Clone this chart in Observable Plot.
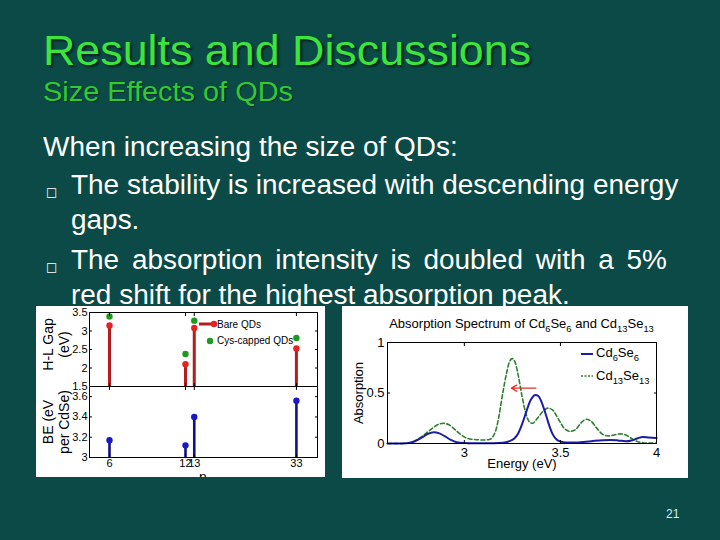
<!DOCTYPE html>
<html><head><meta charset="utf-8">
<script src="https://cdn.jsdelivr.net/npm/d3@7"></script>
<script src="https://cdn.jsdelivr.net/npm/@observablehq/plot@0.6"></script>
<style>
html,body{margin:0;padding:0;}
body{width:720px;height:540px;background:#0b4a46;position:relative;overflow:hidden;font-family:"Liberation Sans",Arial,sans-serif;}
.t{position:absolute;white-space:nowrap;line-height:1;transform-origin:0 0;}
#title{left:43px;top:28.6px;font-size:43px;color:#3de43d;transform:scaleX(1.042);text-shadow:2px 2px 2px rgba(0,0,0,.55);}
#sub{left:43px;top:78.8px;font-size:27px;color:#34c934;transform:scaleX(1.07);text-shadow:1px 1px 1px rgba(0,0,0,.4);}
.bd{font-size:27px;color:#fff;transform:scaleX(1.035);}
.bul{position:absolute;font-family:"DejaVu Sans",sans-serif;font-size:12px;color:#fff;line-height:1;}
#l3{width:575.8px;text-align:justify;text-align-last:justify;}
#pg{left:666px;top:508px;font-size:12px;color:#d6eeee;}
.box{position:absolute;background:#fff;overflow:hidden;}
.box svg{position:absolute;left:0;}
.lg{position:absolute;white-space:nowrap;line-height:1;color:#000;}
.sb{font-size:72%;vertical-align:-0.42em;}
</style>
</head><body>
<div id="title" class="t">Results and Discussions</div>
<div id="sub" class="t">Size Effects of QDs</div>
<div class="t bd" style="left:43px;top:133.8px">When increasing the size of QDs:</div>
<div class="bul" style="left:46px;top:186px">□</div>
<div class="t bd" style="left:71px;top:172.1px">The stability is increased with descending energy</div>
<div class="t bd" style="left:71px;top:206.6px">gaps.</div>
<div class="bul" style="left:46px;top:261px">□</div>
<div id="l3" class="t bd" style="left:71px;top:247.1px">The absorption intensity is doubled with a 5%</div>
<div class="t bd" style="left:71px;top:282.1px">red shift for the highest absorption peak.</div>
<div id="pg" class="t">21</div>

<div id="lbox" class="box" style="left:36px;top:306px;width:289px;height:171px"></div>
<div id="rbox" class="box" style="left:342px;top:306px;width:346px;height:172px"></div>

<script>
// ---- Left chart data ----
const nValues = [6, 12, 13, 33];
const gapBare = [3.15, 2.10, 3.08, 2.53];
const gapCys  = [3.39, 2.38, 3.28, 2.81];
const beValues = [3.17, 3.12, 3.40, 3.56];
const nTicks = [6, 12, 13, 33];
const gapTicks = [1.5, 2, 2.5, 3, 3.5];
const beTicks = [3, 3.2, 3.4, 3.6];
const gapLabel = "H-L Gap\n(eV)";
const beLabel = "BE (eV\nper CdSe)";
const nLabel = "n";
const legendLeft = ["Bare QDs", "Cys-capped QDs"];

// ---- Right chart data ----
const energyA = [2.60,2.65,2.70,2.74,2.78,2.81,2.84,2.87,2.90,2.93,2.96,3.00,3.05,3.10,3.15,3.20,3.23,3.26,3.28,3.30,3.32,3.34,3.355,3.37,3.385,3.40,3.415,3.43,3.445,3.46,3.48,3.50,3.53,3.57,3.62,3.67,3.72,3.76,3.80,3.84,3.87,3.90,3.93,3.96,4.00];
const absA    = [0,0,0.003,0.02,0.06,0.095,0.112,0.10,0.07,0.035,0.012,0.004,0.002,0.002,0.003,0.008,0.02,0.05,0.10,0.19,0.30,0.41,0.46,0.48,0.47,0.42,0.34,0.25,0.16,0.09,0.04,0.02,0.01,0.01,0.015,0.025,0.033,0.035,0.03,0.022,0.03,0.05,0.065,0.06,0.055];
const energyB = [2.60,2.65,2.70,2.74,2.78,2.82,2.86,2.89,2.92,2.95,2.98,3.01,3.05,3.10,3.13,3.16,3.18,3.20,3.22,3.235,3.25,3.265,3.28,3.30,3.32,3.34,3.355,3.38,3.41,3.435,3.46,3.49,3.52,3.55,3.58,3.61,3.635,3.66,3.69,3.72,3.75,3.78,3.81,3.84,3.87,3.90,3.93,3.96,4.00];
const absB    = [0,0,0.005,0.025,0.07,0.13,0.185,0.20,0.185,0.14,0.09,0.055,0.04,0.035,0.04,0.11,0.27,0.50,0.70,0.81,0.84,0.80,0.68,0.47,0.30,0.21,0.20,0.25,0.32,0.35,0.33,0.24,0.15,0.12,0.14,0.21,0.24,0.22,0.15,0.09,0.075,0.085,0.095,0.085,0.05,0.02,0.008,0.004,0.003];
const eTicks = [3, 3.5, 4];
const aTicks = [0, 0.5, 1];
const shiftArrow = {from: 3.372, to: 3.245, level: 0.548};
const specTitle = "Absorption Spectrum of Cd<span class='sb'>6</span>Se<span class='sb'>6</span> and Cd<span class='sb'>13</span>Se<span class='sb'>13</span>";
const legendRight = ["Cd<span class='sb'>6</span>Se<span class='sb'>6</span>", "Cd<span class='sb'>13</span>Se<span class='sb'>13</span>"];
const eLabel = "Energy (eV)";
const aLabel = "Absorption";

const FONT = "'Liberation Sans', Arial, sans-serif";
const RED = "#b31d1d", RED_DOT = "#e3231f", GREEN = "#1d9a1d", BLUE = "#101088", BLUE_DOT = "#1818c8";

const table = nValues.map((n, i) => ({n, bare: gapBare[i], cys: gapCys[i], be: beValues[i]}));

function frameTicks(xt, yt, opts = {}) {
  const blank = () => "";
  return [
    Plot.axisY({ticks: yt, anchor: "left", tickSize: 3, insetLeft: 3, tickPadding: opts.yPad ?? 2, fontSize: opts.fs, label: null, tickFormat: opts.yFmt}),
    Plot.axisY({ticks: yt, anchor: "right", tickSize: 3, insetRight: 3, tickFormat: blank, label: null}),
    Plot.axisX({ticks: xt, anchor: "bottom", tickSize: 3, insetBottom: 3, tickPadding: opts.xPad ?? 3, fontSize: opts.fs, label: null, tickFormat: opts.xFmt ?? blank}),
    Plot.axisX({ticks: xt, anchor: "top", tickSize: 3, insetTop: 3, tickFormat: blank, label: null}),
  ];
}

// top-left panel
const topPlot = Plot.plot({
  width: 289, height: 80, marginLeft: 53, marginRight: 8, marginTop: 6, marginBottom: 0,
  x: {type: "log", domain: [5, 40]},
  y: {domain: [gapTicks[0], gapTicks[gapTicks.length - 1]]},
  style: {background: "transparent", fontFamily: FONT, fontSize: "11px", color: "#000", overflow: "visible"},
  marks: [
    Plot.ruleX(table, {x: "n", y1: gapTicks[0], y2: "bare", stroke: RED, strokeWidth: 3}),
    Plot.dot(table, {x: "n", y: "bare", r: 3.2, fill: RED_DOT, stroke: null}),
    Plot.dot(table, {x: "n", y: "cys", r: 3.2, fill: GREEN, stroke: null}),
    ...frameTicks(nTicks, gapTicks, {fs: 11, yFmt: d => `${d}`}),
    Plot.text([gapLabel], {text: d => d, frameAnchor: "left", dx: -34, dy: -5, rotate: -90, textAnchor: "middle", fontSize: 14, lineHeight: 1.15}),
    Plot.frame({stroke: "#000", strokeWidth: 1})
  ]
});
topPlot.style.top = "0px";

const botPlot = Plot.plot({
  width: 289, height: 91, marginLeft: 53, marginRight: 8, marginTop: 0, marginBottom: 20,
  x: {type: "log", domain: [5, 40]},
  y: {domain: [beTicks[0], 3.7]},
  style: {background: "transparent", fontFamily: FONT, fontSize: "11px", color: "#000", overflow: "visible"},
  marks: [
    Plot.ruleX(table, {x: "n", y1: beTicks[0], y2: "be", stroke: BLUE, strokeWidth: 2.6}),
    Plot.dot(table, {x: "n", y: "be", r: 3.2, fill: BLUE_DOT, stroke: null}),
    ...frameTicks(nTicks, beTicks, {fs: 11, yFmt: d => `${d}`, xFmt: d => `${d}`, xPad: 2}),
    Plot.text([beLabel], {text: d => d, frameAnchor: "left", dx: -34, dy: 0, rotate: -90, textAnchor: "middle", fontSize: 14, lineHeight: 1.15}),
    Plot.frame({stroke: "#000", strokeWidth: 1})
  ]
});
botPlot.style.top = "80px";

const lbox = document.getElementById("lbox");
lbox.appendChild(topPlot);
lbox.appendChild(botPlot);
lbox.insertAdjacentHTML("beforeend", `
<svg style="position:absolute;left:160px;top:13px" width="24" height="36">
  <line x1="3" y1="5" x2="18" y2="5" stroke="${RED}" stroke-width="3"/>
  <circle cx="18" cy="5" r="3.2" fill="${RED_DOT}"/>
  <circle cx="14" cy="22" r="3.2" fill="${GREEN}"/>
</svg>
<div class="lg" style="left:181px;top:13.5px;font-size:10px">${legendLeft[0]}</div>
<div class="lg" style="left:181px;top:30px;font-size:10px">${legendLeft[1]}</div>
<div class="lg" style="left:163px;top:164px;font-size:14px">${nLabel}</div>
`);

// right chart
const specA = energyA.map((e, i) => ({e, a: absA[i]}));
const specB = energyB.map((e, i) => ({e, a: absB[i]}));
const rightPlot = Plot.plot({
  width: 346, height: 172, marginLeft: 45, marginRight: 32, marginTop: 36, marginBottom: 35,
  x: {domain: [2.6, 4]},
  y: {domain: [0, 1]},
  style: {background: "transparent", fontFamily: FONT, fontSize: "13px", color: "#000", overflow: "visible"},
  marks: [
    Plot.line(specB, {x: "e", y: "a", stroke: "#2f7f2f", strokeWidth: 1.6, strokeDasharray: "4 2.5", curve: "monotone-x"}),
    Plot.line(specA, {x: "e", y: "a", stroke: "#1c1ca6", strokeWidth: 2, curve: "monotone-x"}),
    Plot.arrow([shiftArrow], {x1: "from", x2: "to", y1: "level", y2: "level", stroke: "#e2302a", strokeWidth: 1.3, headLength: 7}),
    ...frameTicks(eTicks, aTicks, {fs: 13, yFmt: d => `${d}`, xFmt: d => `${d}`, yPad: 3, xPad: 4}),
    Plot.text([aLabel], {text: d => d, frameAnchor: "left", dx: -29, rotate: -90, textAnchor: "middle", fontSize: 13}),
    Plot.text([eLabel], {text: d => d, frameAnchor: "bottom", dy: 15, lineAnchor: "top", fontSize: 13}),
    Plot.frame({stroke: "#000", strokeWidth: 1})
  ]
});
rightPlot.style.top = "0px";
const rbox = document.getElementById("rbox");
rbox.appendChild(rightPlot);
rbox.insertAdjacentHTML("beforeend", `
<div class="lg" style="left:45px;width:269px;text-align:center;top:11px;font-size:13px">${specTitle}</div>
<svg style="position:absolute;left:238px;top:40px" width="16" height="40">
  <line x1="1" y1="8" x2="13" y2="8" stroke="#1c1ca6" stroke-width="2"/>
  <line x1="1" y1="30" x2="13" y2="30" stroke="#2f7f2f" stroke-width="1.6" stroke-dasharray="2 1.5"/>
</svg>
<div class="lg" style="left:254px;top:40.3px;font-size:13px">${legendRight[0]}</div>
<div class="lg" style="left:254px;top:63px;font-size:13px">${legendRight[1]}</div>
`);
</script>
</body></html>
